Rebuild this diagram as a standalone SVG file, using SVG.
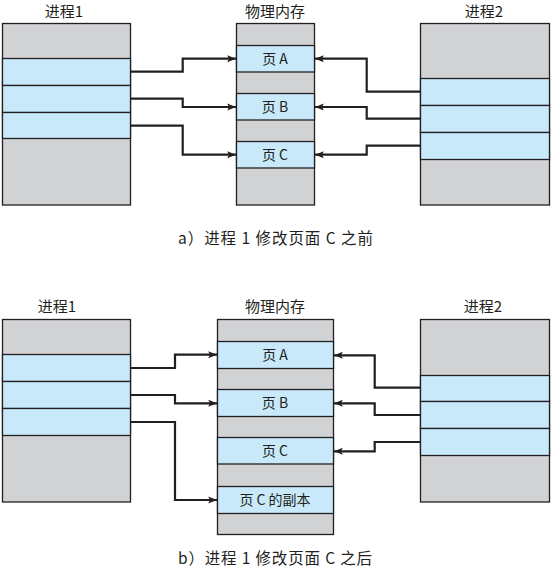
<svg xmlns="http://www.w3.org/2000/svg" width="552" height="569" viewBox="0 0 552 569">
<defs>
<style>
.g{fill:#d1d2d4;stroke:#231f20;stroke-width:1.3}
.b{fill:#c7e9f9;stroke:#231f20;stroke-width:1.3}
.t{font-family:"Noto Sans CJK SC","Noto Sans",sans-serif;font-size:15px;fill:#231f20;text-anchor:middle}
.cap{font-family:"Noto Sans CJK SC","Noto Sans",sans-serif;font-size:15.5px;fill:#231f20}
.l{font-family:"Noto Sans CJK SC","Noto Sans",sans-serif;font-size:14px;fill:#231f20;text-anchor:middle}
.c{fill:none;stroke:#231f20;stroke-width:2.2}
</style>
<marker id="ah" viewBox="0 0 10 10" refX="10" refY="5" markerWidth="4" markerHeight="4" orient="auto" markerUnits="strokeWidth">
<path d="M0,1 L10,5 L0,9 L2,5 Z" fill="#231f20"/>
</marker>
</defs>
<rect width="552" height="569" fill="#fff"/>

<!-- Panel a -->
<g id="a-process1">
<text class="t" x="64" y="17">进程1</text>
<rect class="g" x="2.5" y="23.5" width="128" height="181.5"/>
<rect class="b" x="2.5" y="58.5" width="128" height="27"/>
<rect class="b" x="2.5" y="85.5" width="128" height="27"/>
<rect class="b" x="2.5" y="112.5" width="128" height="26"/>
</g>
<g id="a-memory">
<text class="t" x="275" y="17">物理内存</text>
<rect class="g" x="236.5" y="23.5" width="78" height="181.5"/>
<rect class="b" x="236.5" y="45.5" width="78" height="26.5"/>
<rect class="b" x="236.5" y="93.5" width="78" height="26.5"/>
<rect class="b" x="236.5" y="141.5" width="78" height="26.5"/>
<text class="l" x="275" y="63.5">页 A</text>
<text class="l" x="275" y="111.5">页 B</text>
<text class="l" x="275" y="159.5">页 C</text>
</g>
<g id="a-process2">
<text class="t" x="484" y="17">进程2</text>
<rect class="g" x="420.5" y="23.5" width="129" height="181.5"/>
<rect class="b" x="420.5" y="78.5" width="129" height="27"/>
<rect class="b" x="420.5" y="105.5" width="129" height="27"/>
<rect class="b" x="420.5" y="132.5" width="129" height="27"/>
</g>
<g id="a-connectors">
<polyline class="c" marker-end="url(#ah)" points="130.5,71.7 182.7,71.7 182.7,58.7 236,58.7"/>
<polyline class="c" marker-end="url(#ah)" points="130.5,98.7 182.7,98.7 182.7,107 236,107"/>
<polyline class="c" marker-end="url(#ah)" points="130.5,125.7 182.7,125.7 182.7,154.7 236,154.7"/>
<polyline class="c" marker-end="url(#ah)" points="420.5,91.7 366.7,91.7 366.7,58.7 315,58.7"/>
<polyline class="c" marker-end="url(#ah)" points="420.5,118.7 366.7,118.7 366.7,107 315,107"/>
<polyline class="c" marker-end="url(#ah)" points="420.5,145.7 366.7,145.7 366.7,154.7 315,154.7"/>
</g>
<text class="cap" x="178" y="243.5" textLength="195" lengthAdjust="spacing">a）进程 1 修改页面 C 之前</text>

<!-- Panel b -->
<g id="b-process1">
<text class="t" x="57" y="312">进程1</text>
<rect class="g" x="2.5" y="319.5" width="128" height="182.5"/>
<rect class="b" x="2.5" y="354.5" width="128" height="27"/>
<rect class="b" x="2.5" y="381.5" width="128" height="27"/>
<rect class="b" x="2.5" y="408.5" width="128" height="27"/>
</g>
<g id="b-memory">
<text class="t" x="275" y="312">物理内存</text>
<rect class="g" x="217.5" y="319.5" width="116" height="215"/>
<rect class="b" x="217.5" y="341.5" width="116" height="27"/>
<rect class="b" x="217.5" y="389.5" width="116" height="27"/>
<rect class="b" x="217.5" y="437.5" width="116" height="26.5"/>
<rect class="b" x="217.5" y="486.5" width="116" height="27"/>
<text class="l" x="275" y="360">页 A</text>
<text class="l" x="275" y="408">页 B</text>
<text class="l" x="275" y="456">页 C</text>
<text class="l" x="275" y="505">页 C 的副本</text>
</g>
<g id="b-process2">
<text class="t" x="483" y="312">进程2</text>
<rect class="g" x="420.5" y="319.5" width="129" height="182.5"/>
<rect class="b" x="420.5" y="375.5" width="129" height="26"/>
<rect class="b" x="420.5" y="401.5" width="129" height="27"/>
<rect class="b" x="420.5" y="428.5" width="129" height="27"/>
</g>
<g id="b-connectors">
<polyline class="c" marker-end="url(#ah)" points="130.5,368 175,368 175,354.7 217,354.7"/>
<polyline class="c" marker-end="url(#ah)" points="130.5,395 175,395 175,403.3 217,403.3"/>
<polyline class="c" marker-end="url(#ah)" points="130.5,422 175,422 175,500 217,500"/>
<polyline class="c" marker-end="url(#ah)" points="420.5,387.7 374.7,387.7 374.7,355.3 334,355.3"/>
<polyline class="c" marker-end="url(#ah)" points="420.5,415 374.7,415 374.7,403.3 334,403.3"/>
<polyline class="c" marker-end="url(#ah)" points="420.5,442 374.7,442 374.7,451.3 334,451.3"/>
</g>
<text class="cap" x="178" y="564" textLength="194" lengthAdjust="spacing">b）进程 1 修改页面 C 之后</text>
</svg>
